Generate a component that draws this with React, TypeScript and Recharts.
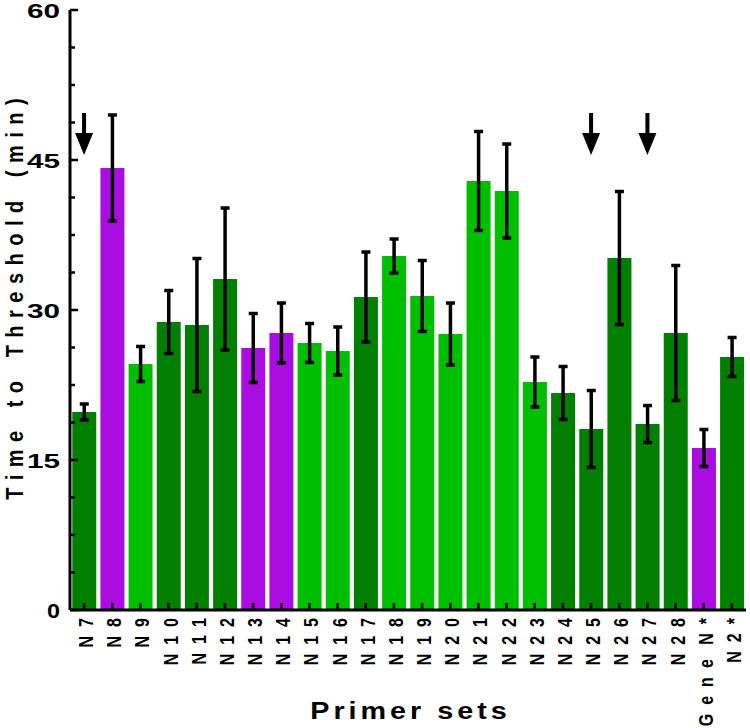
import React from "react";
import {
  ComposedChart,
  Bar,
  Cell,
  ErrorBar,
  Scatter,
  XAxis,
  YAxis,
  Label,
} from "recharts";

const categories = [
  "N7", "N8", "N9", "N10", "N11", "N12", "N13", "N14", "N15", "N16", "N17", "N18",
  "N19", "N20", "N21", "N22", "N23", "N24", "N25", "N26", "N27", "N28", "Gene N*", "N2*",
];
const means = [
  19.8, 44.2, 24.6, 28.8, 28.5, 33.1, 26.2, 27.7, 26.7, 25.9, 31.3, 35.4,
  31.4, 27.6, 42.9, 41.9, 22.8, 21.7, 18.1, 35.2, 18.6, 27.7, 16.2, 25.3,
];
const errors = [
  0.8, 5.3, 1.75, 3.15, 6.65, 7.1, 3.45, 3.0, 1.95, 2.4, 4.5, 1.7,
  3.55, 3.1, 4.95, 4.7, 2.5, 2.65, 3.85, 6.65, 1.85, 6.75, 1.85, 1.95,
];
const groups = [
  "dark", "purple", "light", "dark", "dark", "dark", "purple", "purple", "light", "light", "dark", "light",
  "light", "light", "light", "light", "light", "dark", "dark", "dark", "dark", "dark", "purple", "dark",
];
const arrowed = ["N7", "N25", "N27"];
const ARROW_LEVEL = 49.7;
const yTicks = [0, 3.75, 7.5, 11.25, 15, 18.75, 22.5, 26.25, 30, 33.75, 37.5, 41.25, 45, 48.75, 52.5, 56.25, 60];

const colors = { dark: "#007f00", light: "#00bf00", purple: "#a90de0" };
const FONT = "'Liberation Sans', Arial, sans-serif";

const data = categories.map((name, i) => ({
  name,
  mean: means[i],
  err: errors[i],
  group: groups[i],
  arrow: arrowed.includes(name) ? ARROW_LEVEL : null,
}));

const YTick = (props) => {
  const { x, y, payload } = props;
  const major = payload.value % 15 === 0;
  const label = String(payload.value);
  return (
    <g>
      <line x1={x} x2={x + (major ? 8 : 5)} y1={y} y2={y} stroke="#000" strokeWidth={2.5} />
      {major && (
        <text
          x={x - 10}
          y={y + 7.5}
          textAnchor="end"
          fontFamily={FONT}
          fontWeight="bold"
          fontSize={21}
          textLength={label.length * 20 - 7}
          lengthAdjust="spacingAndGlyphs"
          fill="#000"
        >
          {label}
        </text>
      )}
    </g>
  );
};

const XTick = (props) => {
  const { x, y, payload } = props;
  const ls = 9;
  return (
    <g>
      <line x1={x} x2={x} y1={y} y2={y - 7} stroke="#000" strokeWidth={2.5} />
      <text
        transform={`translate(${x + 9},${y + 8 - ls}) rotate(-90) scale(1,1.3)`}
        textAnchor="end"
        fontFamily={FONT}
        fontWeight="bold"
        fontSize={16}
        letterSpacing={ls}
        wordSpacing={-8}
        fill="#000"
      >
        {payload.value}
      </text>
    </g>
  );
};

const ArrowShape = (props) => {
  const { cx, cy, payload } = props;
  if (payload == null || payload.arrow == null || !isFinite(cy)) return <g />;
  return (
    <g>
      <rect x={cx - 2} y={cy} width={4} height={22} fill="#000" />
      <polygon points={`${cx - 9},${cy + 20} ${cx + 9},${cy + 20} ${cx},${cy + 42}`} fill="#000" />
    </g>
  );
};

const YTitle = () => {
  const ls = 7.5;
  return (
    <text
      transform={`translate(23,${299 - ls / 2}) rotate(-90) scale(1,1.22)`}
      textAnchor="middle"
      fontFamily={FONT}
      fontWeight="bold"
      fontSize={20}
      letterSpacing={ls}
      wordSpacing={3}
      fill="#000"
    >
      Time to Threshold (min)
    </text>
  );
};

const XTitle = () => {
  const ls = 3.2;
  return (
    <text
      transform={`translate(${408.5 + (ls * 1.25) / 2},719) scale(1.25,1)`}
      textAnchor="middle"
      fontFamily={FONT}
      fontWeight="bold"
      fontSize={23}
      letterSpacing={ls}
      fill="#000"
    >
      Primer sets
    </text>
  );
};

export default function App() {
  return (
    <div style={{ position: "absolute", left: 0, top: 0, width: 750, height: 728, background: "#fff" }}>
      <ComposedChart
        width={750}
        height={728}
        data={data}
        margin={{ top: 10, right: 4, bottom: 0, left: 0 }}
        barCategoryGap="8%"
      >
        <Bar dataKey="mean" isAnimationActive={false}>
          {data.map((d) => (
            <Cell key={d.name} fill={colors[d.group]} />
          ))}
          <ErrorBar dataKey="err" width={4.5} stroke="#000" strokeWidth={3.5} direction="y" />
        </Bar>
        <Scatter dataKey="arrow" shape={ArrowShape} isAnimationActive={false} />
        <XAxis
          dataKey="name"
          type="category"
          interval={0}
          height={118}
          tickLine={false}
          tickSize={0}
          tickMargin={0}
          tick={XTick}
          axisLine={{ stroke: "#000", strokeWidth: 3 }}
        >
          <Label content={XTitle} />
        </XAxis>
        <YAxis
          type="number"
          domain={[0, 60]}
          ticks={yTicks}
          interval={0}
          width={70}
          tickLine={false}
          tickSize={0}
          tickMargin={0}
          tick={YTick}
          axisLine={{ stroke: "#000", strokeWidth: 3 }}
        >
          <Label content={YTitle} />
        </YAxis>
      </ComposedChart>
    </div>
  );
}
